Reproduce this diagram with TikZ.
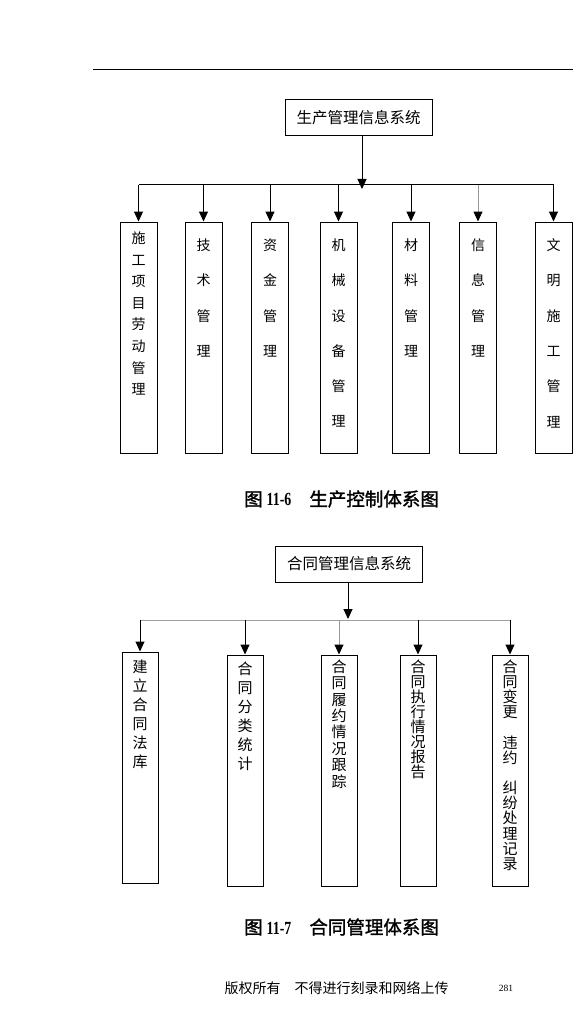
\documentclass[tikz,border=0pt]{standalone}
\usepackage{fontspec}
\usepackage{graphicx}
\setmainfont{Liberation Serif}
\newfontfamily\cjk{Noto Sans CJK SC}
\newfontfamily\cjkb[FakeBold=1.5]{Noto Sans CJK SC}
\usetikzlibrary{arrows.meta}
\begin{document}
\begin{tikzpicture}[x=1pt,y=-1pt,
  box/.style={draw, line width=1pt, minimum width=37pt, minimum height=231pt, inner sep=0pt},
  boxb/.style={draw, line width=1pt, minimum width=36pt, minimum height=231pt, inner sep=0pt},
  topbox/.style={draw, line width=1pt, minimum width=147pt, minimum height=36pt, inner sep=0pt, font=\cjk\fontsize{15.5}{18}\selectfont},
  arr/.style={-{Triangle[width=9pt,length=10pt,color=black]}, line width=1pt},
  hline/.style={line width=1pt},
  vtxt/.style={anchor=north, inner sep=0pt, align=center},
  captxt/.style={inner sep=0pt},
]
\fill[white] (0,0) rectangle (573,1011);
\useasboundingbox (0,0) rectangle (573,1011);

% header rule
\draw[line width=1pt] (93,70) -- (573,70);

% ---------- diagram 1 ----------
\node[topbox] (top1) at (358.5,118) {生产管理信息系统};
\coordinate (j1) at (362,185);
\coordinate (t1) at (362,189);

\node[box] (b1) at (138.5,337.5) {};
\node[box] (b2) at (203.5,337.5) {};
\node[box] (b3) at (270,337.5) {};
\node[box] (b4) at (338.5,337.5) {};
\node[box] (b5) at (411,337.5) {};
\node[box] (b6) at (478,337.5) {};
\node[box] (b7) at (553.5,337.5) {};

\draw[arr] (top1.south -| j1) -- (t1);
\draw[hline] (j1 -| b1.north) -- (j1 -| b7.north);
\foreach \b in {b1,b2,b3,b4,b5,b7}{
  \draw[arr] (j1 -| \b.north) -- (\b.north);
}
\draw[arr, draw=gray!80] (j1 -| b6.north) -- (b6.north);

\node[vtxt, font=\cjk\fontsize{14}{21.6}\selectfont] (x1) at ([yshift=-10pt]b1.north) {施\\工\\项\\目\\劳\\动\\管\\理};
\node[vtxt, font=\cjk\fontsize{14}{35.3}\selectfont] (x2) at ([yshift=-17pt]b2.north) {技\\术\\管\\理};
\node[vtxt, font=\cjk\fontsize{14}{35.3}\selectfont] (x3) at ([yshift=-17pt]b3.north) {资\\金\\管\\理};
\node[vtxt, font=\cjk\fontsize{14}{35.3}\selectfont] (x4) at ([yshift=-17pt]b4.north) {机\\械\\设\\备\\管\\理};
\node[vtxt, font=\cjk\fontsize{14}{35.3}\selectfont] (x5) at ([yshift=-17pt]b5.north) {材\\料\\管\\理};
\node[vtxt, font=\cjk\fontsize{14}{35.3}\selectfont] (x6) at ([yshift=-17pt]b6.north) {信\\息\\管\\理};
\node[vtxt, font=\cjk\fontsize{14}{35.3}\selectfont] (x7) at ([yshift=-17pt]b7.north) {文\\明\\施\\工\\管\\理};

\node[captxt, anchor=west, font=\fontsize{18.5}{21}\selectfont] (cap1) at (244,499) {{\cjkb 图}\hspace{4pt}\scalebox{0.75}[1]{\textbf{11-6}}\hspace{18pt}{\cjkb 生产控制体系图}};

% ---------- diagram 2 ----------
\node[topbox] (top2) at (349,564) {合同管理信息系统};
\coordinate (j2) at (348,620);
\coordinate (t2) at (348,619);

\node[boxb] (c1) at (140,767.5) {};
\node[boxb] (c2) at (245,770.5) {};
\node[boxb] (c3) at (339,770.5) {};
\node[boxb] (c4) at (418,770.5) {};
\node[boxb] (c5) at (510,770.5) {};

\draw[arr] (top2.south -| j2) -- (t2);
\draw[hline, draw=gray!75] (j2 -| c1.north) -- (j2 -| c5.north);
\foreach \c in {c1,c2,c4,c5}{
  \draw[arr] (j2 -| \c.north) -- (\c.north);
}
\draw[arr, draw=gray!80] (j2 -| c3.north) -- (c3.north);

\node[vtxt, font=\cjk\fontsize{15}{19}\selectfont] (y1) at ([yshift=-8pt]c1.north) {建\\立\\合\\同\\法\\库};
\node[vtxt, font=\cjk\fontsize{15}{19}\selectfont] (y2) at ([yshift=-7pt]c2.north) {合\\同\\分\\类\\统\\计};
\node[vtxt, font=\cjk\fontsize{15}{16.4}\selectfont] (y3) at ([yshift=-5pt]c3.north) {合\\同\\履\\约\\情\\况\\跟\\踪};
\node[vtxt, font=\cjk\fontsize{15}{15}\selectfont] (y4) at ([yshift=-5pt]c4.north) {合\\同\\执\\行\\情\\况\\报\\告};
\node[vtxt, font=\cjk\fontsize{15}{15.15}\selectfont] (y5) at ([yshift=-5pt]c5.north) {合\\同\\变\\更\\　\\违\\约\\　\\纠\\纷\\处\\理\\记\\录};

\node[captxt, anchor=west, font=\fontsize{18.5}{21}\selectfont] (cap2) at (244,927) {{\cjkb 图}\hspace{4pt}\scalebox{0.75}[1]{\textbf{11-7}}\hspace{18pt}{\cjkb 合同管理体系图}};

% footer
\node[captxt, font=\cjk\fontsize{14}{16}\selectfont] (foot) at (336.5,988) {版权所有　不得进行刻录和网络上传};
\node[captxt, font=\fontsize{9.5}{11}\selectfont] (page) at (506,988) {281};
\end{tikzpicture}
\end{document}
